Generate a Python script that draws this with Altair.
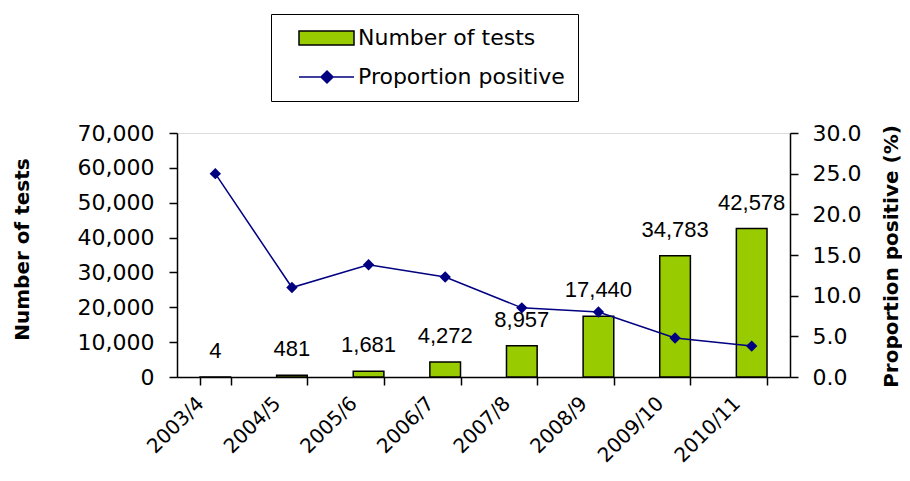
import altair as alt
import pandas as pd

seasons = ["2003/4", "2004/5", "2005/6", "2006/7", "2007/8", "2008/9", "2009/10", "2010/11"]
tests = [4, 481, 1681, 4272, 8957, 17440, 34783, 42578]
positive = [25.0, 11.0, 13.8, 12.3, 8.5, 8.0, 4.8, 3.8]
series = ["Number of tests", "Proportion positive"]

FONT = "DejaVu Sans"
GREEN = "#99CC00"
NAVY = "#000080"

df = pd.DataFrame({"season": seasons, "tests": tests, "positive": positive})
leg_df = pd.DataFrame({"series": series})

x = alt.X(
    "season:N",
    sort=seasons,
    scale=alt.Scale(paddingInner=0.6, paddingOuter=0.3),
    axis=alt.Axis(
        title=None, labelAngle=-45, labelAlign="right", labelBaseline="top",
        tickBand="extent", tickSize=8, labelPadding=8, labelOffset=-22,
        labelFontSize=20, labelFont=FONT, labelColor="#000", domainColor="#000",
        tickColor="#000", domainWidth=1.5, tickWidth=1.5,
    ),
)

y_left = alt.Y(
    "tests:Q",
    scale=alt.Scale(domain=[0, 70000], nice=False),
    axis=alt.Axis(
        orient="left", title="Number of tests", values=list(range(0, 70001, 10000)),
        format=",.0f", tickSize=8, labelPadding=15, labelFontSize=22, labelFont=FONT,
        labelColor="#000", domainColor="#000", tickColor="#000", domainWidth=1.5,
        tickWidth=1.5, grid=False, titleFont=FONT, titleFontSize=20,
        titleFontWeight="bold", titleColor="#000", titleAngle=-90,
        titleX=-155, titleY=116, titleAlign="center", titleBaseline="middle",
    ),
)

y_right = alt.Y(
    "positive:Q",
    scale=alt.Scale(domain=[0, 30], nice=False),
    axis=alt.Axis(
        orient="right", title="Proportion positive (%)", values=[0, 5, 10, 15, 20, 25, 30],
        format=".1f", tickSize=8, labelPadding=14, labelFontSize=22, labelFont=FONT,
        labelColor="#000", domainColor="#000", tickColor="#000", domainWidth=1.5,
        tickWidth=1.5, grid=False, titleFont=FONT, titleFontSize=20,
        titleFontWeight="bold", titleColor="#000", titleAngle=-90,
        titleX=101, titleY=123, titleAlign="center", titleBaseline="middle",
    ),
)

bars = alt.Chart(df).mark_bar(color=GREEN, stroke="#000", strokeWidth=1.5).encode(x=x, y=y_left)
labels = alt.Chart(df).mark_text(
    dy=-19, baseline="alphabetic", fontSize=22, font="Liberation Sans", color="#000"
).encode(x=x, y=y_left, text=alt.Text("tests:Q", format=","))

line = alt.Chart(df).mark_line(
    color=NAVY, strokeWidth=1.5,
    point=alt.OverlayMarkDef(shape="diamond", filled=True, size=130, color=NAVY),
).encode(x=x, y=y_right)

# legend swatches (unit = 8 px): 55 px wide
rect_path = "M0.5,-0.875H7.375V0.875H0.5Z"
line_path = "M0.5,0H7.375M4,-0.75L4.75,0L4,0.75L3.25,0Z"

legend = alt.Legend(
    title=None, orient="none", legendX=94, legendY=-119, strokeColor="#000",
    fillColor="#fff", padding=13, symbolSize=256, labelFontSize=22, labelFont=FONT,
    labelColor="#000", labelOffset=52, rowPadding=17, symbolStrokeWidth=1.5,
    symbolOpacity=1, labelLimit=400,
    labelExpr="datum.label + '\u00a0\u00a0\u00a0'",
)

leg_layer = alt.Chart(leg_df).mark_point(filled=True).encode(
    fill=alt.Fill("series:N", scale=alt.Scale(domain=series, range=[GREEN, NAVY]), legend=legend),
    stroke=alt.Stroke("series:N", scale=alt.Scale(domain=series, range=["#000", NAVY]), legend=legend),
    shape=alt.Shape("series:N", scale=alt.Scale(domain=series, range=[rect_path, line_path]), legend=legend),
).transform_filter("false")

chart = alt.layer(
    alt.layer(bars, labels),
    line,
    leg_layer,
).resolve_scale(y="independent").properties(
    width=613, height=244,
    padding={"left": 169, "top": 125, "right": 112, "bottom": 96},
    autosize=alt.AutoSizeParams(type="none"),
).configure_view(stroke=None).configure(font=FONT)

chart.save("out.html", embed_options={"renderer": "svg", "actions": False})
